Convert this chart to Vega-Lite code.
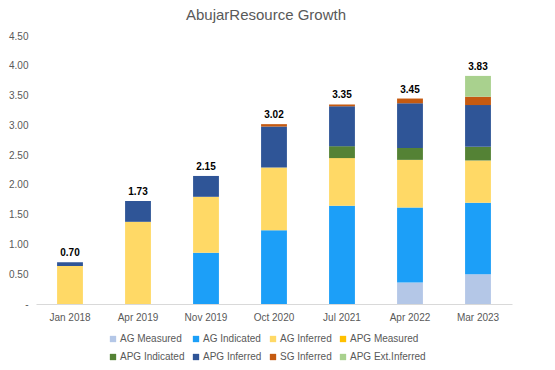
{
  "$schema": "https://vega.github.io/schema/vega-lite/v6.json",
  "width": 476,
  "height": 268,
  "padding": {"left": 8, "top": 8, "right": 10, "bottom": 5},
  "background": "white",
  "config": {"view": {"stroke": null}, "font": "Liberation Sans"},
  "title": {"text": "AbujarResource Growth", "font": "Liberation Sans", "fontSize": 15, "fontWeight": "normal", "color": "#595959", "offset": 8, "dx": -8},
  "data": {"values": [
    {"date": "Jan 2018", "cat": "AG Inferred", "v": 0.64, "idx": 3},
    {"date": "Jan 2018", "cat": "APG Inferred", "v": 0.06, "idx": 6},
    {"date": "Apr 2019", "cat": "AG Inferred", "v": 1.38, "idx": 3},
    {"date": "Apr 2019", "cat": "APG Inferred", "v": 0.35, "idx": 6},
    {"date": "Nov 2019", "cat": "AG Indicated", "v": 0.86, "idx": 2},
    {"date": "Nov 2019", "cat": "AG Inferred", "v": 0.94, "idx": 3},
    {"date": "Nov 2019", "cat": "APG Inferred", "v": 0.35, "idx": 6},
    {"date": "Oct 2020", "cat": "AG Indicated", "v": 1.24, "idx": 2},
    {"date": "Oct 2020", "cat": "AG Inferred", "v": 1.05, "idx": 3},
    {"date": "Oct 2020", "cat": "APG Inferred", "v": 0.69, "idx": 6},
    {"date": "Oct 2020", "cat": "SG Inferred", "v": 0.04, "idx": 7},
    {"date": "Jul 2021", "cat": "AG Indicated", "v": 1.65, "idx": 2},
    {"date": "Jul 2021", "cat": "AG Inferred", "v": 0.80, "idx": 3},
    {"date": "Jul 2021", "cat": "APG Indicated", "v": 0.20, "idx": 5},
    {"date": "Jul 2021", "cat": "APG Inferred", "v": 0.67, "idx": 6},
    {"date": "Jul 2021", "cat": "SG Inferred", "v": 0.03, "idx": 7},
    {"date": "Apr 2022", "cat": "AG Measured", "v": 0.36, "idx": 1},
    {"date": "Apr 2022", "cat": "AG Indicated", "v": 1.26, "idx": 2},
    {"date": "Apr 2022", "cat": "AG Inferred", "v": 0.80, "idx": 3},
    {"date": "Apr 2022", "cat": "APG Indicated", "v": 0.20, "idx": 5},
    {"date": "Apr 2022", "cat": "APG Inferred", "v": 0.75, "idx": 6},
    {"date": "Apr 2022", "cat": "SG Inferred", "v": 0.08, "idx": 7},
    {"date": "Mar 2023", "cat": "AG Measured", "v": 0.50, "idx": 1},
    {"date": "Mar 2023", "cat": "AG Indicated", "v": 1.20, "idx": 2},
    {"date": "Mar 2023", "cat": "AG Inferred", "v": 0.71, "idx": 3},
    {"date": "Mar 2023", "cat": "APG Indicated", "v": 0.23, "idx": 5},
    {"date": "Mar 2023", "cat": "APG Inferred", "v": 0.70, "idx": 6},
    {"date": "Mar 2023", "cat": "SG Inferred", "v": 0.14, "idx": 7},
    {"date": "Mar 2023", "cat": "APG Ext.Inferred", "v": 0.35, "idx": 8}
  ]},
  "encoding": {
    "x": {
      "field": "date", "type": "nominal",
      "sort": ["Jan 2018", "Apr 2019", "Nov 2019", "Oct 2020", "Jul 2021", "Apr 2022", "Mar 2023"],
      "scale": {"paddingInner": 0.62, "paddingOuter": 0.31},
      "axis": {"title": null, "labelAngle": 0, "ticks": false, "domainColor": "#d9d9d9", "labelColor": "#595959", "labelFontSize": 10, "labelFont": "Liberation Sans", "labelPadding": 8}
    },
    "y": {
      "aggregate": "sum", "field": "v", "type": "quantitative", "stack": "zero",
      "scale": {"domain": [0, 4.5], "nice": false},
      "axis": {"title": null, "values": [0, 0.5, 1, 1.5, 2, 2.5, 3, 3.5, 4, 4.5], "format": ".2f", "labelExpr": "datum.value == 0 ? '-' : datum.label", "labelOverlap": false, "grid": false, "domain": false, "ticks": false, "labelColor": "#595959", "labelFontSize": 10, "labelFont": "Liberation Sans", "labelPadding": 8}
    }
  },
  "layer": [
    {
      "mark": {"type": "bar"},
      "encoding": {
        "color": {
          "field": "cat", "type": "nominal",
          "scale": {
            "domain": ["AG Measured", "AG Indicated", "AG Inferred", "APG Measured", "APG Indicated", "APG Inferred", "SG Inferred", "APG Ext.Inferred"],
            "range": ["#B4C7E7", "#1C9FF8", "#FFD966", "#FFC000", "#548235", "#2F5597", "#C55A11", "#A9D18E"]
          },
          "legend": {
            "title": null, "orient": "none", "legendX": 72, "legendY": 298, "direction": "horizontal", "columns": 4,
            "symbolType": "square", "symbolSize": 40, "symbolStrokeWidth": 0,
            "labelFontSize": 10, "labelFont": "Liberation Sans", "labelColor": "#595959",
            "labelOffset": 2, "gridAlign": "each", "columnPadding": 6, "rowPadding": 8
          }
        },
        "order": {"field": "idx", "type": "quantitative", "sort": "ascending"}
      }
    },
    {
      "mark": {"type": "text", "fontWeight": "bold", "fontSize": 10, "font": "Liberation Sans", "color": "#000000", "dy": -9},
      "encoding": {
        "text": {"aggregate": "sum", "field": "v", "type": "quantitative", "format": ".2f"}
      }
    }
  ]
}
